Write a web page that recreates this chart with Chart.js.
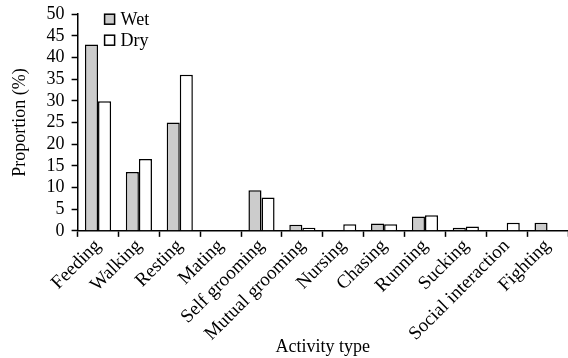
<!DOCTYPE html>
<html>
<head>
    <title>Activity budget</title>
    <script src="https://cdn.jsdelivr.net/npm/chart.js"></script>
    <style>
        html, body { margin: 0; padding: 0; background: #ffffff; }
        #wrap { width: 568px; height: 358px; }
    </style>
</head>
<body>
    <div id="wrap"><canvas id="act-chart"></canvas></div>
<script>
    var activities = ['Feeding', 'Walking', 'Resting', 'Mating', 'Self grooming', 'Mutual grooming',
        'Nursing', 'Chasing', 'Running', 'Sucking', 'Social interaction', 'Fighting'];
    var wetValues = [43, 13.6, 25, 0, 9.4, 1.4, 0, 1.7, 3.3, 0.7, 0, 1.9];
    var dryValues = [29.9, 16.6, 36, 0, 7.7, 0.7, 1.5, 1.5, 3.6, 1.0, 1.9, 0];
    var yTicks = [0, 5, 10, 15, 20, 25, 30, 35, 40, 45, 50];

    var serif = 'Liberation Serif';

    // legend drawn inside the plot, stacked like the original
    var boxLegend = {
        id: 'boxLegend',
        afterDraw: function (chart) {
            var ctx = chart.ctx;
            var x = chart.chartArea.left + 27;
            var y = chart.chartArea.top + 5;
            ctx.save();
            ctx.font = '18px ' + serif;
            ctx.textBaseline = 'middle';
            chart.data.datasets.forEach(function (ds, i) {
                var yy = y + i * 21;
                ctx.fillStyle = ds.backgroundColor;
                ctx.fillRect(x, yy - 5, 10, 10);
                ctx.strokeStyle = '#000';
                ctx.lineWidth = 1.5;
                ctx.strokeRect(x, yy - 5, 10, 10);
                ctx.fillStyle = '#000';
                ctx.fillText(ds.label, x + 16, yy + 1);
            });
            ctx.restore();
        }
    };

    var ctx = document.getElementById('act-chart').getContext('2d');
    var actChart = new Chart(ctx, {
        type: 'bar',
        data: {
            labels: activities,
            datasets: [{
                label: 'Wet',
                data: wetValues,
                backgroundColor: '#cccccc',
                borderColor: '#000000',
                borderWidth: 1.5,
                categoryPercentage: 0.64,
                barPercentage: 1.0
            }, {
                label: 'Dry',
                data: dryValues,
                backgroundColor: '#ffffff',
                borderColor: '#000000',
                borderWidth: 1.5,
                categoryPercentage: 0.64,
                barPercentage: 1.0
            }]
        },
        options: {
            responsive: true,
            maintainAspectRatio: false,
            animation: false,
            layout: { padding: { top: 5, right: 0, left: 9, bottom: 0 } },
            plugins: {
                legend: { display: false },
                tooltip: { enabled: false }
            },
            scales: {
                x: {
                    grid: {
                        display: true,
                        drawOnChartArea: false,
                        offset: true,
                        color: '#000',
                        tickLength: 6,
                        tickWidth: 1.5
                    },
                    border: { display: true, color: '#000', width: 1.5 },
                    ticks: {
                        color: '#000',
                        font: { family: serif, size: 19 },
                        maxRotation: 45,
                        minRotation: 45,
                        autoSkip: false,
                        padding: -2
                    },
                    title: {
                        display: true,
                        text: 'Activity type',
                        color: '#000',
                        font: { family: serif, size: 18 },
                        padding: { top: -7, bottom: 0 }
                    }
                },
                y: {
                    min: 0,
                    max: 50,
                    afterBuildTicks: function (axis) {
                        axis.ticks = yTicks.map(function (v) { return { value: v }; });
                    },
                    grid: {
                        display: true,
                        drawOnChartArea: false,
                        color: '#000',
                        tickLength: 6,
                        tickWidth: 1.5
                    },
                    border: { display: true, color: '#000', width: 1.5 },
                    ticks: {
                        color: '#000',
                        font: { family: serif, size: 18, lineHeight: 0.8 },
                        autoSkip: false,
                        padding: 7
                    },
                    title: {
                        display: true,
                        text: 'Proportion (%)',
                        color: '#000',
                        font: { family: serif, size: 18 },
                        padding: { top: 0, bottom: 9 }
                    }
                }
            }
        },
        plugins: [boxLegend]
    });
</script>
</body>
</html>
